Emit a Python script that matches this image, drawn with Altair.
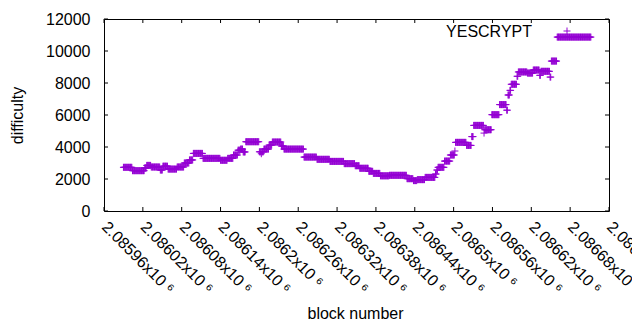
import altair as alt
import pandas as pd
import numpy as np

PURPLE = "#9400D3"
FONT = "Liberation Sans"
FS = 16
PLUS = "M-1,0L1,0M0,-1L0,1"

# each run lasts until the next run starts.
run_start = [
    2085990, 2086004, 2086023, 2086026, 2086033, 2086047, 2086051, 2086059,
    2086073, 2086084, 2086092, 2086098, 2086113, 2086140, 2086151, 2086160,
    2086167, 2086171, 2086175, 2086179, 2086200, 2086203, 2086204, 2086207,
    2086215, 2086220, 2086234, 2086238, 2086269, 2086289, 2086309, 2086331,
    2086348, 2086355, 2086369, 2086376, 2086387, 2086401, 2086428, 2086438,
    2086444, 2086456, 2086472, 2086474, 2086476, 2086486, 2086495, 2086502,
    2086503, 2086520, 2086528, 2086531, 2086547, 2086548, 2086559, 2086571,
    2086582, 2086584, 2086587, 2086589, 2086598, 2086600, 2086614, 2086623,
    2086633, 2086635, 2086649, 2086651, 2086660,
]
run_difficulty = [
    2730, 2520, 2690, 2850, 2750, 2560, 2800, 2620,
    2750, 3000, 3190, 3600, 3290, 3170, 3290, 3500,
    3800, 3870, 3690, 4330, 3700, 3580, 3700, 3870,
    4120, 4310, 4060, 3870, 3370, 3230, 3100, 2960,
    2830, 2670, 2480, 2350, 2200, 2230, 2020, 1900,
    1960, 2100, 2310, 2560, 2730, 3120, 3500, 3750,
    4290, 4100, 4650, 5350, 4870, 5080, 6020, 6650,
    6300, 7250, 7540, 7920, 8420, 8690, 8620, 8810,
    8480, 8730, 8370, 9370, 10870,
]
last_block = 2086712

x_ticks = [2085960, 2086020, 2086080, 2086140, 2086200, 2086260, 2086320,
           2086380, 2086440, 2086500, 2086560, 2086620, 2086680, 2086740]
y_ticks = [0, 2000, 4000, 6000, 8000, 10000, 12000]
series_name = "YESCRYPT"

ends = run_start[1:] + [last_block + 1]
blocks, diffs = [], []
for s, e, d in zip(run_start, ends, run_difficulty):
    for b in range(s, e):
        blocks.append(b)
        diffs.append(d)
df = pd.DataFrame({"block": blocks, "difficulty": diffs})

xs = alt.Scale(domain=[x_ticks[0], x_ticks[-1]], nice=False, zero=False)
ys = alt.Scale(domain=[y_ticks[0], y_ticks[-1]], nice=False)

W, H = 505, 192

x_axis = alt.Axis(
    values=x_ticks,
    labelExpr="format(datum.value/1e6, '.6~g') + 'x10 ⁶'",
    labelAngle=45, labelAlign="left", labelBaseline="middle",
    labelPadding=13, ticks=False, domain=False, grid=False,
    labelOverlap=False, labelFlush=False, labelBound=False,
    labelFont=FONT, labelFontSize=FS, labelColor="black",
    title="block number", titleFont=FONT, titleFontSize=FS,
    titleFontWeight="normal", titleColor="black",
    titleX=251, titleY=107, titleAlign="center", titleBaseline="alphabetic",
)
y_axis = alt.Axis(
    values=y_ticks, format="d", ticks=False, domain=False, grid=False,
    labelPadding=14, labelFont=FONT, labelFontSize=FS, labelColor="black",
    labelBaseline="middle",
    title="difficulty", titleFont=FONT, titleFontSize=FS,
    titleFontWeight="normal", titleColor="black",
    titleX=-87, titleY=H / 2, titleAngle=270, titleAlign="center",
    titleBaseline="middle",
)

points = alt.Chart(df).mark_point(
    shape=PLUS, filled=False, strokeWidth=1, size=49, color=PURPLE, opacity=1
).encode(
    x=alt.X("block:Q", scale=xs, axis=x_axis),
    y=alt.Y("difficulty:Q", scale=ys, axis=y_axis),
)

xt = pd.DataFrame({"block": x_ticks})
yt = pd.DataFrame({"difficulty": y_ticks})
TL = 4
xb = alt.Chart(xt).mark_rule(color="black", strokeWidth=1).encode(
    x=alt.X("block:Q", scale=xs, axis=x_axis), y=alt.value(H), y2=alt.value(H - TL))
xtop = alt.Chart(xt).mark_rule(color="black", strokeWidth=1).encode(
    x=alt.X("block:Q", scale=xs, axis=x_axis), y=alt.value(0), y2=alt.value(TL))
yl = alt.Chart(yt).mark_rule(color="black", strokeWidth=1).encode(
    y=alt.Y("difficulty:Q", scale=ys, axis=y_axis), x=alt.value(0), x2=alt.value(TL))
yr = alt.Chart(yt).mark_rule(color="black", strokeWidth=1).encode(
    y=alt.Y("difficulty:Q", scale=ys, axis=y_axis), x=alt.value(W), x2=alt.value(W - TL))

key_text = alt.Chart(pd.DataFrame({"label": [series_name]})).mark_text(
    align="right", baseline="alphabetic", font=FONT, fontSize=FS, color="black"
).encode(text="label:N", x=alt.value(428), y=alt.value(18))
key_pt = alt.Chart(pd.DataFrame({"label": [series_name]})).mark_point(
    shape=PLUS, filled=False, strokeWidth=1, size=49, color=PURPLE, opacity=1
).encode(x=alt.value(463), y=alt.value(12))

chart = alt.layer(points, xb, xtop, yl, yr, key_text, key_pt).properties(
    width=W, height=H,
    autosize=alt.AutoSizeParams(type="none"),
    padding={"left": 96, "top": 11, "right": 23, "bottom": 109},
    background="white",
).configure_view(stroke="black", strokeWidth=1)

chart.save("out.html", embed_options={"renderer": "svg", "actions": False})
